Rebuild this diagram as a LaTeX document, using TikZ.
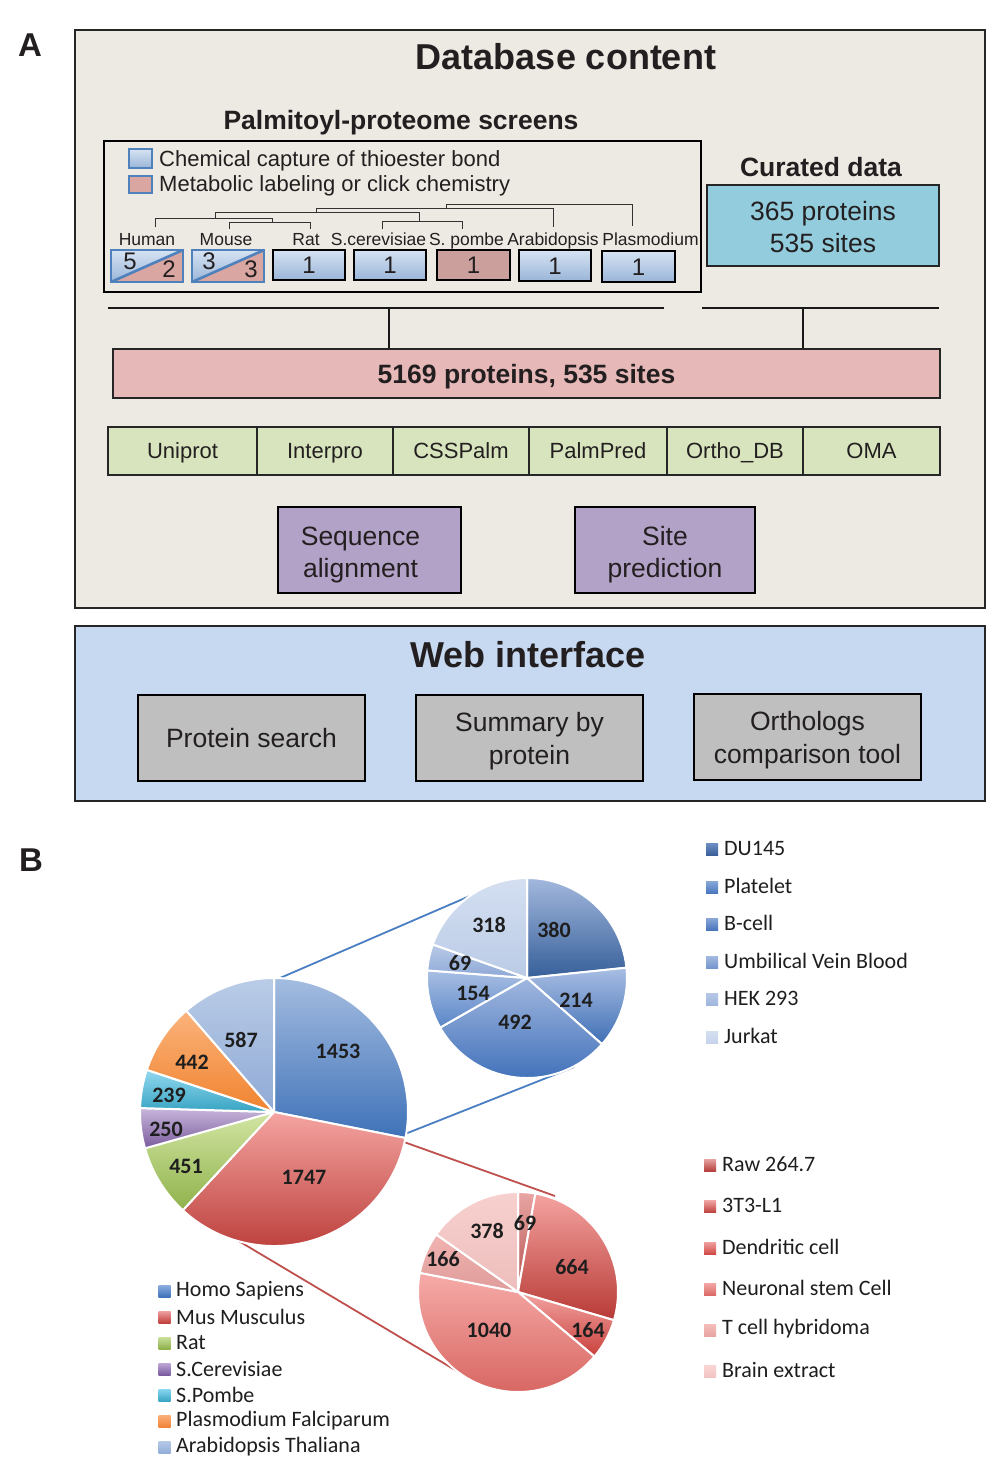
\documentclass[tikz,border=0pt]{standalone}
\usepackage{fontspec}
\setmainfont{Liberation Sans}
\newfontfamily\calfont{Carlito}
\newcommand\fsz[2]{\fontsize{#1}{#2}\selectfont}
\definecolor{dbbg}{HTML}{EDE9E3}
\definecolor{txt}{HTML}{231F20}
\definecolor{webbg}{HTML}{C6D9F1}
\definecolor{curated}{HTML}{93CDDD}
\definecolor{pinkbar}{HTML}{E6B9B8}
\definecolor{greenc}{HTML}{D7E4BD}
\definecolor{purp}{HTML}{B3A2C7}
\definecolor{grayb}{HTML}{BFBFBF}
\definecolor{spblueT}{HTML}{D6E3F3}
\definecolor{spblueB}{HTML}{9AB5D8}
\definecolor{spred}{HTML}{CBA09C}
\definecolor{spredL}{HTML}{D9A6A1}
\definecolor{edgeblue}{HTML}{4F81BD}
\definecolor{linkblue}{HTML}{4A7EC2}
\definecolor{linkred}{HTML}{C0504D}
\definecolor{btxt}{HTML}{1E1E1E}
\newcommand\abx[7]{\node[#6, minimum width={(#4)-(#2)}, minimum height={(#5)-(#3)}] (#1) at ({((#2)+(#4))/2},{((#3)+(#5))/2}) {#7};}
% cx cy r a1 a2 top bottom (math angles, clockwise from a1 to a2)
\newcommand\pieslice[7]{\begingroup\definecolor{pstop}{HTML}{#6}\definecolor{psbot}{HTML}{#7}%
  \path[top color=pstop, bottom color=psbot, draw=white, line width=2pt, line join=round] (#1,#2) -- ++({-(#4)}:#3) arc[start angle={-(#4)}, end angle={-(#5)}, radius=#3] -- cycle;\endgroup}
\newcommand\lsq[4]{\begingroup\definecolor{lstop}{HTML}{#3}\definecolor{lsbot}{HTML}{#4}%
  \path[top color=lstop, bottom color=lsbot] ({#1-6},{#2-6}) rectangle ({#1+6},{#2+6});\endgroup}
\begin{document}
\begin{tikzpicture}[x=1pt,y=-1pt,
  every node/.style={text=txt, inner sep=0pt},
  capht/.style={text height=#1, text depth=0pt},
  frame/.style={draw=black!85, line width=1.6pt},
  abox/.style={draw=black, line width=1.5pt, align=center},
  spbox/.style={draw=black, line width=1.6pt, top color=spblueT, bottom color=spblueB},
  greenbox/.style={draw=black!85, line width=1.6pt, fill=greenc, font=\fsz{22}{26}, capht=15.8pt},
  treeline/.style={draw=black!80, line width=0.9pt},
  joinline/.style={draw=black!90, line width=1.6pt},
  lbl/.style={font=\calfont\bfseries\fsz{22}{26}, text=btxt},
  leg/.style={font=\calfont\fsz{22}{26}, anchor=west, text=btxt},
  sp/.style={font=\fsz{17.5}{20}, capht=12.5pt},
  num/.style={font=\fsz{24}{26}, capht=17.2pt},
  link/.style={line width=1.8pt}]
\useasboundingbox (0,0) rectangle (1000,1478);
\fill[white] (0,0) rectangle (1000,1478);

%%%%%%%% Part A
\node[font=\bfseries\fsz{33}{36}, capht=23.6pt] (labA) at (30,45) {A};
\abx{db}{75}{30}{985}{608}{frame, fill=dbbg}{}
\node[font=\bfseries\fsz{36}{40}, capht=25.8pt] (dbtitle) at (566,57) {Database content};
\node[font=\bfseries\fsz{26.5}{30}, capht=19pt] (pptitle) at (401,120) {Palmitoyl-proteome screens};
\node[font=\bfseries\fsz{26.5}{30}, capht=19pt] (curtitle) at (821,167) {Curated data};

\abx{screens}{104}{141}{701}{292}{draw=black, line width=1.8pt}{}
\abx{lgblue}{129}{149}{152}{168}{draw=edgeblue, line width=1.2pt, top color=spblueT, bottom color=spblueB}{}
\abx{lgred}{129}{176}{152}{193}{draw=edgeblue, line width=1.2pt, fill=spredL}{}
\node[font=\fsz{22}{26}, anchor=west, capht=15.8pt] (lgbluet) at (159,159) {Chemical capture of thioester bond};
\node[font=\fsz{22}{26}, anchor=west, capht=15.8pt] (lgredt) at (159,184) {Metabolic labeling or click chemistry};

% species labels
\node[sp] (lhuman) at (147,239) {Human};
\node[sp] (lmouse) at (226,239) {Mouse};
\node[sp] (lrat) at (306,239) {Rat};
\node[sp] (lscer) at (378.5,239) {S.cerevisiae};
\node[sp] (lspom) at (466.5,239) {S. pombe};
\node[sp] (larab) at (553,239) {Arabidopsis};
\node[sp] (lplas) at (650.5,239) {Plasmodium};

% tree
\draw[treeline] (155.3,227.3) -- (155.3,218.3) -- (272.4,218.3) -- (272.4,222.7);
\draw[treeline] (229.2,229.3) -- (229.2,222.7) -- (310.1,222.7) -- (310.1,229.3);
\draw[treeline] (215.2,218.3) -- (215.2,212.7) -- (419.1,212.7) -- (419.1,221);
\draw[treeline] (382.5,229.3) -- (382.5,221) -- (462.6,221) -- (462.6,229.3);
\draw[treeline] (316.7,212.7) -- (316.7,208.3) -- (553.3,208.3) -- (553.3,227.3);
\draw[treeline] (446.3,208.3) -- (446.3,204) -- (632.3,204) -- (632.3,226);

% split boxes
\path[top color=spblueT, bottom color=spblueB] (111,250) -- (183,250) -- (111,282) -- cycle;
\fill[spredL] (183,250) -- (183,282) -- (111,282) -- cycle;
\draw[edgeblue, line width=2.6pt] (111,282) -- (183,250);
\abx{bhuman}{111}{250}{183}{282}{draw=edgeblue, line width=2pt}{}
\node[num] (h5) at (130,261) {5};
\node[num] (h2) at (169,269) {2};
\path[top color=spblueT, bottom color=spblueB] (192,250) -- (264,250) -- (192,282) -- cycle;
\fill[spredL] (264,250) -- (264,282) -- (192,282) -- cycle;
\draw[edgeblue, line width=2.6pt] (192,282) -- (264,250);
\abx{bmouse}{192}{250}{264}{282}{draw=edgeblue, line width=2pt}{}
\node[num] (m3a) at (209,261) {3};
\node[num] (m3b) at (251,269) {3};
\abx{brat}{273}{250}{345}{280}{spbox, num}{1}
\abx{bscer}{354}{250}{426}{280}{spbox, num}{1}
\abx{bspom}{437}{250}{510}{280}{draw=black, line width=1.6pt, fill=spred, num}{1}
\abx{barab}{519}{250}{591}{281}{spbox, num}{1}
\abx{bplas}{602}{251}{675}{282}{spbox, num}{1}

% curated
\abx{cur}{707}{185}{939}{266}{draw=black!85, line width=1.6pt, fill=curated}{}
\node[font=\fsz{26.5}{32}, align=center] (curtxt) at ([yshift=-1.5pt]cur.center) {365 proteins\\535 sites};

% join lines
\abx{bar}{113}{349}{940}{398}{draw=black!85, line width=1.6pt, fill=pinkbar, font=\bfseries\fsz{26.5}{30}, capht=19pt}{5169 proteins, 535 sites}
\coordinate (jl1) at (108,308);
\coordinate (jl2) at (664,308);
\coordinate (jr1) at (702,308);
\coordinate (jr2) at (939,308);
\coordinate (ja) at (389,308);
\coordinate (jb) at (803,308);
\draw[joinline] (jl1) -- (jl2);
\draw[joinline] (jr1) -- (jr2);
\draw[joinline] (ja) -- (ja |- bar.north);
\draw[joinline] (jb) -- (jb |- bar.north);

% green row
\abx{g1}{108}{427}{257}{475}{greenbox}{Uniprot}
\abx{g2}{257}{427}{393}{475}{greenbox}{Interpro}
\abx{g3}{393}{427}{529}{475}{greenbox}{CSSPalm}
\abx{g4}{529}{427}{667}{475}{greenbox}{PalmPred}
\abx{g5}{667}{427}{803}{475}{greenbox}{Ortho\_DB}
\abx{g6}{803}{427}{940}{475}{greenbox}{OMA}

% purple
\abx{seq}{278}{507}{461}{593}{abox, fill=purp}{}
\abx{site}{575}{507}{755}{593}{abox, fill=purp}{}
\node[font=\fsz{26.5}{32}, align=center] (seqtxt) at ([yshift=-5pt, xshift=-9pt]seq.center) {Sequence\\alignment};
\node[font=\fsz{26.5}{32}, align=center] (sitetxt) at ([yshift=-5pt]site.center) {Site\\prediction};

% web interface
\abx{web}{75}{626}{985}{801}{frame, fill=webbg}{}
\node[font=\bfseries\fsz{36}{40}, capht=25.8pt] (webtitle) at (528,655) {Web interface};
\abx{ps}{138}{695}{365}{781}{abox, fill=grayb, font=\fsz{26.5}{33}, capht=19pt}{Protein search}
\abx{sbp}{416}{695}{643}{781}{abox, fill=grayb}{}
\abx{oct}{694}{694}{921}{780}{abox, fill=grayb}{}
\node[font=\fsz{26.5}{33}, align=center] (sbptxt) at ([yshift=-3pt]sbp.center) {Summary by\\protein};
\node[font=\fsz{26.5}{33}, align=center] (octtxt) at ([yshift=-3pt]oct.center) {Orthologs\\comparison tool};

%%%%%%%% Part B
\node[font=\bfseries\fsz{33}{36}, capht=23.6pt] (labB) at (31,860) {B};

\coordinate (m1) at (280,978);
\coordinate (t1) at (469.6,896.1);
\coordinate (m2) at (405,1134);
\coordinate (t2) at (574,1067);
\coordinate (m3) at (404,1142);
\coordinate (b1) at (555,1196);
\coordinate (m4) at (185,1209);
\coordinate (b2) at (472,1380);
\draw[link, linkblue] (m1) -- (t1);
\draw[link, linkblue] (m2) -- (t2);
\draw[link, linkred] (m3) -- (b1);
\draw[link, linkred] (m4) -- (b2);

% main pie
\pieslice{274}{1112}{134}{90}{-11.20}{A4BCE0}{3F72B8}
\pieslice{274}{1112}{134}{-11.20}{-132.87}{F4A4A1}{B93A36}
\pieslice{274}{1112}{134}{-132.87}{-164.28}{D2E5A3}{8FB24B}
\pieslice{274}{1112}{134}{-164.28}{-181.69}{C8B6DB}{7A5C9E}
\pieslice{274}{1112}{134}{-181.69}{-198.34}{92D8EF}{37A3C2}
\pieslice{274}{1112}{134}{-198.34}{-229.12}{FBB37C}{F0832F}
\pieslice{274}{1112}{134}{-229.12}{-270}{BACCE7}{8FAAD6}
\node[lbl] (p1453) at (338,1051) {1453};
\node[lbl] (p1747) at (304,1177) {1747};
\node[lbl] (p451) at (186,1166) {451};
\node[lbl] (p250) at (166,1129) {250};
\node[lbl] (p239) at (169,1095) {239};
\node[lbl] (p442) at (192,1062) {442};
\node[lbl] (p587) at (241,1040) {587};

% top pie
\pieslice{527}{978}{100}{90}{5.92}{A3B8DD}{365F99}
\pieslice{527}{978}{100}{5.92}{-41.43}{A9BEE3}{3F6FB5}
\pieslice{527}{978}{100}{-41.43}{-150.29}{A1B7DF}{3E6FB9}
\pieslice{527}{978}{100}{-150.29}{-184.36}{A8BEE3}{5A86C7}
\pieslice{527}{978}{100}{-184.36}{-199.63}{B9CAE7}{8DA8D6}
\pieslice{527}{978}{100}{-199.63}{-270}{D4DFF1}{BACBE6}
\node[lbl] (q318) at (489,925) {318};
\node[lbl] (q380) at (554,930) {380};
\node[lbl] (q69) at (460,963) {69};
\node[lbl] (q154) at (473,993) {154};
\node[lbl] (q214) at (576,1000) {214};
\node[lbl] (q492) at (515,1022) {492};

% bottom pie
\pieslice{518}{1292}{100}{90}{79.99}{E8A6A4}{B5524F}
\pieslice{518}{1292}{100}{79.99}{-16.36}{F4A3A0}{B83A36}
\pieslice{518}{1292}{100}{-16.36}{-40.16}{F2A4A2}{C9403C}
\pieslice{518}{1292}{100}{-40.16}{-191.07}{F6ABA8}{D5605C}
\pieslice{518}{1292}{100}{-191.07}{-215.16}{F1B3B1}{DE9C9A}
\pieslice{518}{1292}{100}{-215.16}{-270}{F7D1CF}{EDBDBB}
\node[lbl] (r69) at (525,1223) {69};
\node[lbl] (r378) at (487,1231) {378};
\node[lbl] (r664) at (572,1267) {664};
\node[lbl] (r166) at (443,1259) {166};
\node[lbl] (r164) at (588,1330) {164};
\node[lbl] (r1040) at (489,1330) {1040};

% right top legend
\lsq{712}{849}{6E8FC4}{3A5F99}
\lsq{712}{887}{8BA8D8}{4A78BF}
\lsq{712}{924}{8AA7D8}{4A76BD}
\lsq{712}{962}{A3BAE0}{7596CE}
\lsq{712}{999}{B7C8E6}{9FB6DE}
\lsq{712}{1037}{D5DFF0}{C5D3EC}
\node[leg] (ld1) at (724,848) {DU145};
\node[leg] (ld2) at (724,886) {Platelet};
\node[leg] (ld3) at (724,923) {B-cell};
\node[leg] (ld4) at (724,961) {Umbilical Vein Blood};
\node[leg] (ld5) at (724,998) {HEK 293};
\node[leg] (ld6) at (724,1036) {Jurkat};

% right bottom legend
\lsq{710}{1165}{E7A4A2}{B5403D}
\lsq{710}{1206}{F1A8A6}{C04542}
\lsq{710}{1248}{F0A09E}{D04B47}
\lsq{710}{1289}{F4A8A6}{DB6A67}
\lsq{710}{1330}{F4BDBB}{E8A4A2}
\lsq{710}{1371}{F8D5D4}{F2C4C3}
\node[leg] (le1) at (722,1164) {Raw 264.7};
\node[leg] (le2) at (722,1205) {3T3-L1};
\node[leg] (le3) at (722,1247) {Dendritic cell};
\node[leg] (le4) at (722,1288) {Neuronal stem Cell};
\node[leg] (le5) at (722,1329) {T cell hybridoma};
\node[leg] (le6) at (722,1370) {Brain extract};

% left legend
\lsq{164.5}{1291}{8CAEE0}{3F72B8}
\lsq{164.5}{1317}{F0A0A0}{C0403C}
\lsq{164.5}{1343}{C9E09A}{8EB04A}
\lsq{164.5}{1369}{BFA8D8}{7A5A9E}
\lsq{164.5}{1395}{8AD6F0}{3AA6C4}
\lsq{164.5}{1421}{FBB07A}{F0843A}
\lsq{164.5}{1447}{B5C8E6}{94AED9}
\node[leg] (ls1) at (176,1291) {Homo Sapiens};
\node[leg] (ls2) at (176,1317) {Mus Musculus};
\node[leg] (ls3) at (176,1343) {Rat};
\node[leg] (ls4) at (176,1369) {S.Cerevisiae};
\node[leg] (ls5) at (176,1395) {S.Pombe};
\node[leg] (ls6) at (176,1421) {Plasmodium Falciparum};
\node[leg] (ls7) at (176,1447) {Arabidopsis Thaliana};
\end{tikzpicture}
\end{document}
